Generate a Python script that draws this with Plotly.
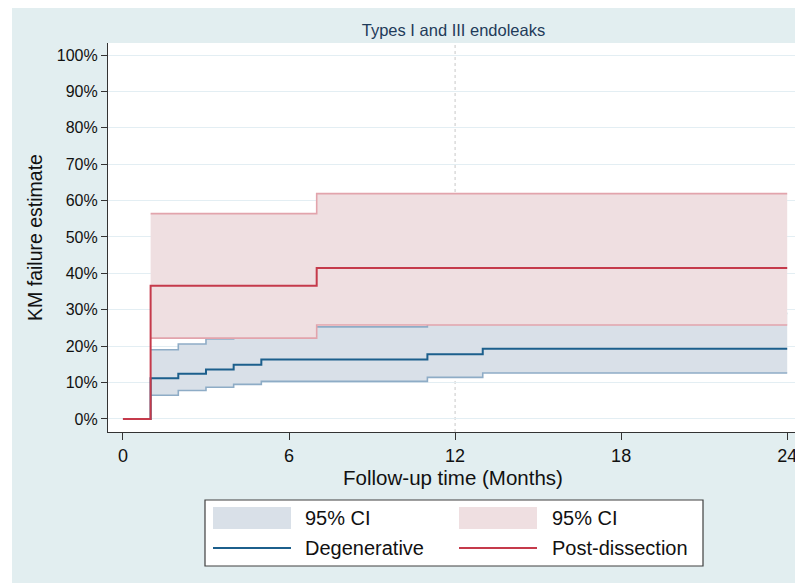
import plotly.graph_objects as go

# ---- data (percent) ----
deg_time = [0, 1, 2, 3, 4, 5, 11, 13, 24]
deg_est = [0, 11.2, 12.4, 13.6, 14.9, 16.3, 17.8, 19.3, 19.3]
deg_ci_time = [1, 2, 3, 4, 5, 11, 13, 24]
deg_lo = [6.5, 7.8, 8.7, 9.5, 10.3, 11.4, 12.6, 12.6]
deg_hi = [19.0, 20.6, 22.0, 23.7, 25.3, 27.0, 29.0, 29.0]

pd_time = [0, 1, 7, 24]
pd_est = [0, 36.6, 41.5, 41.5]
pd_ci_time = [1, 7, 24]
pd_lo = [22.2, 25.8, 25.8]
pd_hi = [56.4, 61.9, 61.9]

y_ticks = list(range(0, 101, 10))
y_labels = [f"{v}%" for v in y_ticks]
x_ticks = [0, 6, 12, 18, 24]

title = "Types I and III endoleaks"
x_title = "Follow-up time (Months)"
y_title = "KM failure estimate"
legend_labels = ["95% CI", "95% CI", "Degenerative", "Post-dissection"]

# ---- styles ----
BG = "#e2eef0"
BLUE_FILL = "#d9e0e8"
BLUE_EDGE = "#8eacc6"
RED_FILL = "#efdfe1"
RED_EDGE = "#e2a4ac"
BLUE_LINE = "#1c5f8c"
RED_LINE = "#c53a4b"
FONT = "Liberation Sans, Arial, sans-serif"

# page body has an 8px margin; figure coordinates = page coordinates - 8
O = 8
W, H = 803 - O, 583 - O
L, R, T, B = 108 - O, 798 - O, 43 - O, 432 - O
pw, ph = R - L, B - T


def px(xp):
    """page x pixel -> paper coordinate"""
    return (xp - O - L) / pw


def py(yp):
    """page y pixel -> paper coordinate"""
    return (B - (yp - O)) / ph


fig = go.Figure()

# Degenerative CI band
fig.add_trace(go.Scatter(x=deg_ci_time, y=deg_lo, mode="lines", line=dict(shape="hv", color=BLUE_EDGE, width=1.6),
                         hoverinfo="skip", showlegend=False))
fig.add_trace(go.Scatter(x=deg_ci_time, y=deg_hi, mode="lines", line=dict(shape="hv", color=BLUE_EDGE, width=1.6),
                         fill="tonexty", fillcolor=BLUE_FILL, hoverinfo="skip", showlegend=False))
# Post-dissection CI band
fig.add_trace(go.Scatter(x=pd_ci_time, y=pd_lo, mode="lines", line=dict(shape="hv", color=RED_EDGE, width=1.6),
                         hoverinfo="skip", showlegend=False))
fig.add_trace(go.Scatter(x=pd_ci_time, y=pd_hi, mode="lines", line=dict(shape="hv", color=RED_EDGE, width=1.6),
                         fill="tonexty", fillcolor=RED_FILL, hoverinfo="skip", showlegend=False))
# Estimates
fig.add_trace(go.Scatter(x=deg_time, y=deg_est, mode="lines", line=dict(shape="hv", color=BLUE_LINE, width=2),
                         name="Degenerative", showlegend=False))
fig.add_trace(go.Scatter(x=pd_time, y=pd_est, mode="lines", line=dict(shape="hv", color=RED_LINE, width=2),
                         name="Post-dissection", showlegend=False))

# dotted reference line at 12 months
fig.add_vline(x=12, line=dict(color="#c8c8c8", width=1, dash="dot"), layer="below")

shapes = []
# white margins outside the light graph region
shapes.append(dict(type="rect", xref="paper", yref="paper", x0=px(0), x1=px(803), y0=py(0), y1=py(9),
                   fillcolor="white", line=dict(width=0), layer="below"))
shapes.append(dict(type="rect", xref="paper", yref="paper", x0=px(0), x1=px(12), y0=py(0), y1=py(583),
                   fillcolor="white", line=dict(width=0), layer="below"))
shapes.append(dict(type="rect", xref="paper", yref="paper", x0=px(800), x1=px(803), y0=py(0), y1=py(583),
                   fillcolor="white", line=dict(width=0), layer="below"))

# legend box
shapes.append(dict(type="rect", xref="paper", yref="paper", x0=px(205), x1=px(703), y0=py(500), y1=py(566),
                   fillcolor="white", line=dict(color="#404040", width=1.2)))
# swatches
shapes.append(dict(type="rect", xref="paper", yref="paper", x0=px(213), x1=px(291), y0=py(507), y1=py(529),
                   fillcolor=BLUE_FILL, line=dict(width=0)))
shapes.append(dict(type="rect", xref="paper", yref="paper", x0=px(459), x1=px(537), y0=py(507), y1=py(529),
                   fillcolor=RED_FILL, line=dict(width=0)))
shapes.append(dict(type="line", xref="paper", yref="paper", x0=px(213), x1=px(291), y0=py(548), y1=py(548),
                   line=dict(color=BLUE_LINE, width=2)))
shapes.append(dict(type="line", xref="paper", yref="paper", x0=px(459), x1=px(537), y0=py(548), y1=py(548),
                   line=dict(color=RED_LINE, width=2)))

annotations = []
leg_pos = [(303, 518), (550, 518), (303, 548), (550, 548)]
for (lx, ly), txt in zip(leg_pos, legend_labels):
    annotations.append(dict(xref="paper", yref="paper", x=px(lx), y=py(ly), text=txt, showarrow=False,
                            xanchor="left", yanchor="middle", font=dict(family=FONT, size=20, color="#111111")))

fig.update_layout(
    width=W, height=H,
    margin=dict(l=L, r=W - R, t=T, b=H - B, pad=0),
    paper_bgcolor=BG, plot_bgcolor="white",
    font=dict(family=FONT, color="#111111"),
    title=dict(text=title, x=px(453.5), xref="paper", xanchor="center", y=1 - (30 - O) / H, yanchor="middle",
               font=dict(family=FONT, size=16.5, color="#1f3b5a")),
    shapes=shapes, annotations=annotations,
    showlegend=False,
)

fig.update_xaxes(range=[-0.54, 24.39], tickvals=x_ticks, ticks="outside", ticklen=7, tickwidth=1.2,
                 tickcolor="#333333", showline=True, linecolor="#333333", linewidth=1.2, showgrid=False,
                 zeroline=False, tickfont=dict(family=FONT, size=18, color="#111111"),
                 title=dict(text=x_title, font=dict(family=FONT, size=20.5, color="#111111"), standoff=5))
fig.update_yaxes(range=[-3.6, 103.3], tickvals=y_ticks, ticktext=y_labels, ticks="outside", ticklen=6,
                 tickwidth=1.2, tickcolor="#333333", showline=True, linecolor="#333333", linewidth=1.2,
                 showgrid=True, gridcolor="#e3eef3", gridwidth=1.2, zeroline=False,
                 tickfont=dict(family=FONT, size=16, color="#111111"),
                 title=dict(text=y_title, font=dict(family=FONT, size=19.5, color="#111111"), standoff=8))

fig.write_html("out.html")
